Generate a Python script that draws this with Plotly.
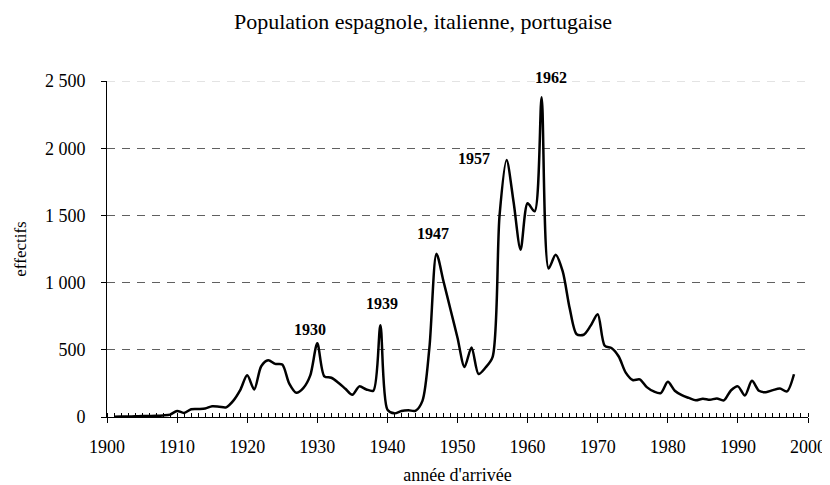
import plotly.graph_objects as go

# ---- data ----
years = list(range(1901, 1999))
effectifs = [
    2, 3, 4, 5, 7, 8, 9, 12, 18,            # 1901-1909
    45, 30, 58, 60, 63, 80, 77, 72, 120, 200,  # 1910-1919
    310, 205, 378, 422, 395, 390, 248, 180, 215, 310,  # 1920-1929
    548, 303, 292, 255, 210, 165, 228, 205, 196, 682,  # 1930-1939
    55, 27, 45, 50, 46, 120, 520, 1215, 1010, 800,     # 1940-1949
    590, 372, 518, 320, 368, 445, 1500, 1912, 1600, 1245,  # 1950-1959
    1590, 1530, 2380, 1105, 1208, 1085, 810, 615, 612, 680,  # 1960-1969
    765, 530, 512, 450, 330, 275, 280, 222, 190, 178,  # 1970-1979
    262, 195, 162, 142, 124, 136, 128, 138, 124, 197,  # 1980-1989
    228, 160, 269, 195, 185, 200, 212, 190, 318,       # 1990-1998
]
peak_years = [1930, 1939, 1947, 1957, 1962]
x_ticks = list(range(1900, 2001, 10))
y_ticks = [0, 500, 1000, 1500, 2000, 2500]
y_ticklabels = ["0", "500", "1 000", "1 500", "2 000", "2 500"]

title = "Population espagnole, italienne, portugaise"
x_title = "année d'arrivée"
y_title = "effectifs"

FONT = "Liberation Serif, Times New Roman, serif"

fig = go.Figure()
fig.add_trace(go.Scatter(
    x=years, y=effectifs, mode="lines",
    line=dict(color="black", width=2.5, shape="spline", smoothing=0.8),
    hoverinfo="x+y", showlegend=False,
))

# peak labels (offsets in pixels: style only)
label_shift = {1930: (-7, 3, "center", "bottom"),
               1939: (2, 11, "center", "bottom"),
               1947: (-3, 10, "center", "bottom"),
               1957: (-15, 2, "right", "middle"),
               1962: (9, 9, "center", "bottom")}
val = dict(zip(years, effectifs))
for py in peak_years:
    dx, dy, xa, ya = label_shift[py]
    fig.add_annotation(x=py, y=val[py], text=f"<b>{py}</b>", showarrow=False,
                       xref="x", yref="y", xshift=dx, yshift=dy,
                       xanchor=xa, yanchor=ya,
                       font=dict(family=FONT, size=16, color="black"))

# top gridline (lighter)
fig.add_shape(type="line", xref="paper", yref="y", x0=0, x1=1,
              y0=y_ticks[-1], y1=y_ticks[-1], layer="below",
              line=dict(color="#c8c8c8", width=1, dash="8px,7px"))

fig.update_layout(
    width=830, height=485,
    margin=dict(l=98, r=23, t=73, b=68),
    paper_bgcolor="white", plot_bgcolor="white",
    font=dict(family=FONT, size=18, color="black"),
    title=dict(text=title, x=0.5, xanchor="center", y=1 - 13 / 485,
               yanchor="middle", font=dict(family=FONT, size=22, color="black")),
    xaxis=dict(
        range=[1900, 2000], tickmode="array", tickvals=x_ticks,
        ticks="outside", ticklen=5, tickcolor="black", tickwidth=1,
        showline=True, linecolor="black", linewidth=1,
        showgrid=False, zeroline=False,
        ticklabelstandoff=8,
        minor=dict(dtick=1, tick0=1900, ticks="inside", ticklen=4,
                   tickcolor="black", tickwidth=1, showgrid=False),
        title=dict(text=x_title, standoff=12, font=dict(size=18)),
    ),
    yaxis=dict(
        range=[0, 2500], tickmode="array", tickvals=y_ticks, ticktext=y_ticklabels,
        ticks="outside", ticklen=5, tickcolor="black", tickwidth=1,
        showline=True, linecolor="black", linewidth=1,
        showgrid=False, zeroline=False,
        ticklabelstandoff=12,
        minor=dict(tickvals=y_ticks[1:-1], ticks="", showgrid=True,
                   gridcolor="#606060", gridwidth=1, griddash="8px,7px"),
        title=dict(text=y_title, standoff=13, font=dict(size=17)),
    ),
)

fig.write_html("out.html")
